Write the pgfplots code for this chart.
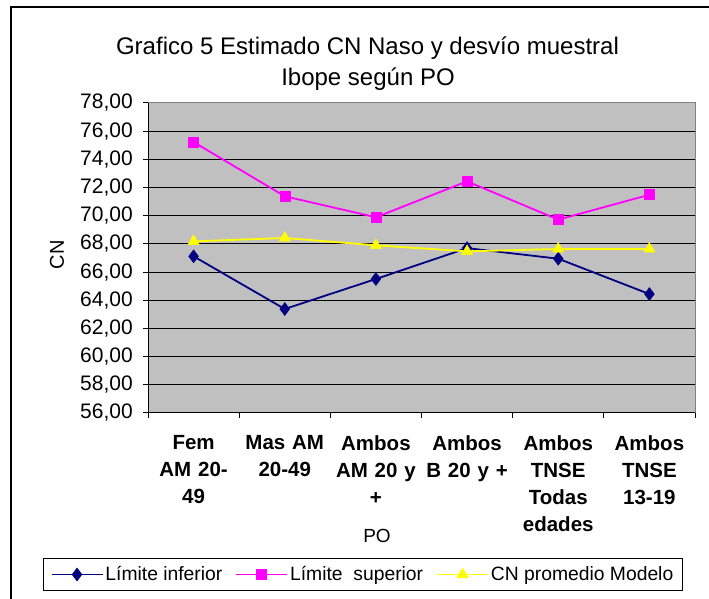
\documentclass[border=0pt]{standalone}
\usepackage{pgfplots}
\pgfplotsset{compat=1.18}
\usepackage{fontspec}
\setmainfont{Liberation Sans}
\definecolor{navyc}{RGB}{0,0,128}
\definecolor{magc}{RGB}{255,0,255}
\definecolor{yelc}{RGB}{255,255,0}
\definecolor{plotbg}{RGB}{192,192,192}
\definecolor{bordergray}{RGB}{128,128,128}
\begin{document}
\begin{tikzpicture}[x=1pt,y=1pt]
\useasboundingbox (0,0) rectangle (709,599);
\draw[black, line width=1.2pt] (11,-5) -- (11,592) -- (720,592);
\node[anchor=base, font=\fontsize{24}{29}\selectfont] at (367.5,544) {Grafico 5 Estimado CN Naso y desvío muestral};
\node[anchor=base, font=\fontsize{24}{29}\selectfont] at (368,513) {Ibope según PO};
\node[rotate=90, font=\fontsize{20}{24}\selectfont] at (57,344) {CN};
\node[anchor=base, font=\fontsize{19}{22}\selectfont] at (377,56) {PO};
\begin{axis}[
  at={(148pt,186pt)}, anchor=south west,
  width=547pt, height=310pt, scale only axis,
  xmin=-0.5, xmax=5.5, ymin=56, ymax=78,
  axis background/.style={fill=plotbg},
  axis line style={draw=bordergray, line width=1pt},
  xtick={0,1,2,3,4,5},
  xticklabels={{Fem\\AM 20-\\49},{Mas AM\\20-49},{Ambos\\AM 20 y\\+},{Ambos\\B 20 y +},{Ambos\\TNSE\\Todas\\edades},{Ambos\\TNSE\\13-19}},
  major x tick style={draw=none},
  minor xtick={-0.5,0.5,1.5,2.5,3.5,4.5,5.5},
  xtick pos=bottom, ytick pos=left,
  tick align=outside,
  major tick length=5pt, minor tick length=5pt,
  tick style={black, line width=1pt},
  ytick={56,58,...,78},
  extra y ticks={58,60,...,76},
  extra y tick labels={},
  extra y tick style={ymajorgrids=true, major grid style={black, line width=0.9pt}},
  xticklabel style={font=\bfseries\fontsize{20.5}{27}\selectfont, align=center, text width=92pt, inner sep=0pt, anchor=north},
  xticklabel shift=17pt,
  yticklabel style={font=\fontsize{21}{24}\selectfont, inner sep=0pt, anchor=east},
  yticklabel shift=10pt,
  /pgf/number format/.cd, fixed, fixed zerofill, precision=2, use comma, assume math mode=true,
  /pgfplots/.cd,
  legend columns=3,
  legend style={at={(0.393,-0.521)}, anchor=center, draw=black, line width=1pt,
    font=\fontsize{19.3}{22}\selectfont, inner xsep=7pt, inner ysep=6pt,
    /tikz/every even column/.append style={column sep=11pt}},
  legend image code/.code={\draw[mark repeat=2,mark phase=2,#1] plot coordinates {(0pt,0pt) (25.5pt,0pt) (51pt,0pt)};},
]
\addplot[navyc, line width=1.8pt, mark=diamond*, mark size=6.5pt, mark options={solid, fill=navyc, line width=0.5pt}]
  coordinates {(0,67.12) (1,63.38) (2,65.51) (3,67.70) (4,66.95) (5,64.44)};
\addlegendentry{Límite inferior}
\addplot[magc, line width=1.8pt, mark=square*, mark size=5pt, mark options={solid, fill=magc, line width=0.5pt}]
  coordinates {(0,75.23) (1,71.38) (2,69.89) (3,72.44) (4,69.72) (5,71.49)};
\addlegendentry{Límite\ \ superior}
\addplot[yelc, line width=1.8pt, mark=triangle*, mark size=6.5pt, mark options={solid, fill=yelc, line width=0.5pt}]
  coordinates {(0,68.18) (1,68.42) (2,67.90) (3,67.47) (4,67.64) (5,67.64)};
\addlegendentry{CN promedio Modelo}
\draw[black, line width=1pt] (rel axis cs:0,1) -- (rel axis cs:0,0) -- (rel axis cs:1,0);
\end{axis}
\end{tikzpicture}
\end{document}
